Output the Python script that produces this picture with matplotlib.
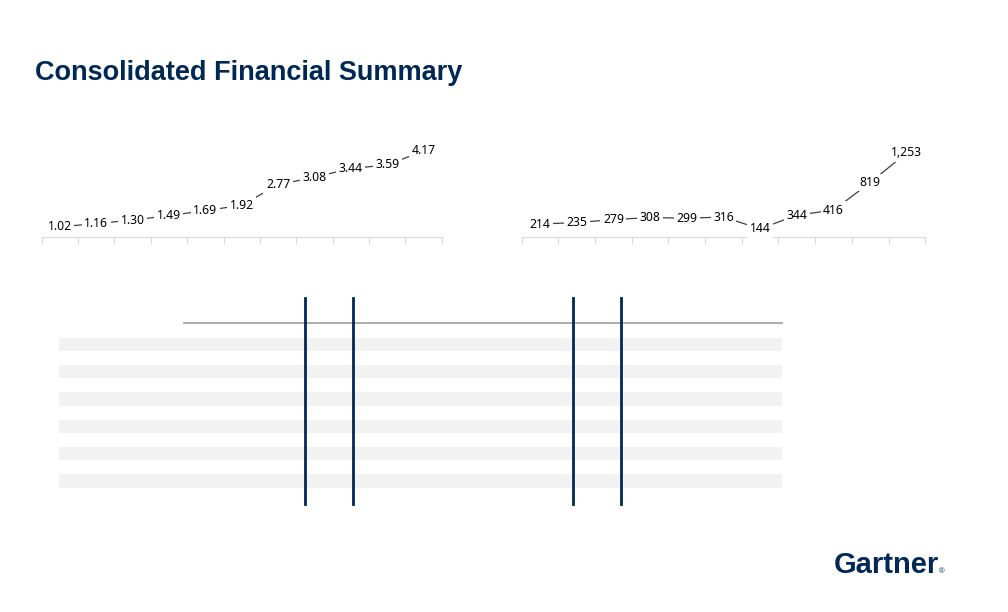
"""Consolidated financial summary slide: two labelled line charts and an empty table frame"""

import matplotlib
matplotlib.use("Agg")
import matplotlib.pyplot as plt
from matplotlib.patches import Rectangle

NAVY = "#002856"
W, H = 1008, 612

eps = [1.02, 1.16, 1.30, 1.49, 1.69, 1.92, 2.77, 3.08, 3.44, 3.59, 4.17]
revenue = [214, 235, 279, 308, 299, 316, 144, 344, 416, 819, 1253]

n_stripes = 6
navy_line_x = [305, 353, 573, 621]

plt.rcParams["font.family"] = ["Liberation Sans", "DejaVu Sans"]


def px_axes(fig, left, top, width, height, **kw):
    """Adds axes placed in pixel coordinates (top-left origin)"""
    return fig.add_axes([left / W, 1 - (top + height) / H, width / W, height / H], **kw)


def plot_labelled_line(ax, values, fmt, ylim):
    """Line chart with centred data labels that hide the line under them"""
    xs = [i + 0.5 for i in range(len(values))]
    ax.plot(xs, values, color="#404040", lw=0.9, zorder=1)
    for x, v in zip(xs, values):
        ax.text(x, v, fmt(v), ha="center", va="center", fontsize=8.8,
                family=["Noto Sans", "DejaVu Sans"], color="black", zorder=3,
                bbox=dict(boxstyle="square,pad=0.2", fc="white", ec="none"))
    ax.set_xlim(0, len(values))
    ax.set_ylim(*ylim)
    ax.set_xticks(range(len(values) + 1))
    ax.set_xticklabels([])
    ax.set_yticks([])
    for side in ("top", "left", "right"):
        ax.spines[side].set_visible(False)
    ax.spines["bottom"].set_color("#d9d9d9")
    ax.tick_params(axis="x", length=5, color="#d9d9d9", direction="out")
    ax.patch.set_alpha(0)


def plot_summary():
    """Draws the slide"""
    fig = plt.figure(figsize=(W / 100, H / 100), dpi=100)

    ax1 = px_axes(fig, 41.7, 140, 400, 97)
    plot_labelled_line(ax1, eps, lambda v: f"{v:.2f}", (0.6, 0.6 + 97 / 24.1))

    ax2 = px_axes(fig, 521.7, 140, 403.5, 97)
    plot_labelled_line(ax2, revenue, lambda v: f"{v:,.0f}", (25, 25 + 97 / 0.0686))

    # background layer for table frame, title and logo
    bg = px_axes(fig, 0, 0, W, H, zorder=-1)
    bg.set_xlim(0, W)
    bg.set_ylim(H, 0)
    bg.axis("off")

    for i in range(n_stripes):
        bg.add_patch(Rectangle((59, 337.5 + i * 27.35), 723, 13.5,
                               fc="#f2f2f2", ec="none"))
    bg.plot([184, 782], [323, 323], color="#a6a6a6", lw=1.3)
    for x in navy_line_x:
        bg.plot([x, x], [298, 504], color=NAVY, lw=2)

    bg.text(35, 80, "Consolidated Financial Summary", fontsize=19.5,
            fontweight="bold", color=NAVY, va="baseline", ha="left")
    bg.text(834, 573, "Gartner", fontsize=21, fontweight="bold",
            color=NAVY, va="baseline", ha="left")
    bg.text(939, 573, "®", fontsize=5.5, color=NAVY, va="baseline", ha="left")

    fig.savefig("out.png", dpi=100)


if __name__ == "__main__":
    plot_summary()
